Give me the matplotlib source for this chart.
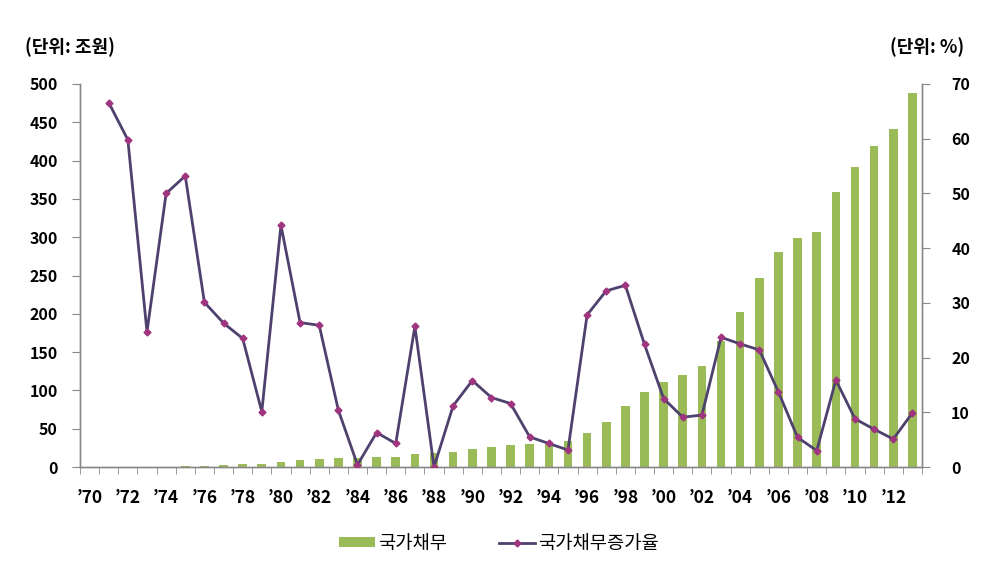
import matplotlib
matplotlib.use("Agg")
import matplotlib.pyplot as plt
import numpy as np

plt.rcParams['font.family'] = ['Noto Sans CJK KR', 'DejaVu Sans']

years = list(range(1970, 2014))
debt = [np.nan, np.nan, np.nan, np.nan, np.nan,
        1.5, 1.8, 3.0, 3.5, 4.5,
        6.0, 8.7, 10.4, 11.7, 12.0,
        13.0, 13.0, 17.3, 18.0, 19.0,
        23.5, 26.5, 29.0, 30.4, 32.0,
        33.4, 43.8, 58.7, 79.0, 97.3,
        110.4, 120.4, 132.1, 165.0, 203.0,
        247.0, 281.0, 298.7, 307.4, 359.0,
        391.3, 419.0, 441.0, 488.7]
growth = [np.nan, 66.6, 59.8, 24.7, 50.0,
          53.2, 30.1, 26.3, 23.5, 10.1,
          44.2, 26.4, 25.9, 10.4, 0.4,
          6.3, 4.3, 25.7, 0.0, 11.2,
          15.8, 12.7, 11.6, 5.5, 4.3,
          3.1, 27.8, 32.2, 33.2, 22.4,
          12.5, 9.1, 9.5, 23.7, 22.5,
          21.4, 13.7, 5.4, 3.0, 15.9,
          8.8, 6.9, 5.1, 9.9]
left_ticks = [0, 50, 100, 150, 200, 250, 300, 350, 400, 450, 500]
right_ticks = [0, 10, 20, 30, 40, 50, 60, 70]
label_years = list(range(1970, 2013, 2))
label_texts = ["\u2019%02d" % (y % 100) for y in label_years]

fig = plt.figure(figsize=(10.04, 5.63), dpi=100)
ax = fig.add_axes([0.0797, 0.1705, 0.8386, 0.6803])
ax2 = ax.twinx()

x = np.arange(len(years))
ax.bar(x, debt, width=0.45, color='#9BBB59', label='국가채무', zorder=2)
ax.set_ylim(0, 500)
ax.set_xlim(-0.5, len(years) - 0.5)
ax.set_yticks(left_ticks)

ax2.plot(x, growth, color='#4E416E', linewidth=2.0, marker='D', markersize=3.5,
         markerfacecolor='#A0357F', markeredgecolor='#A0357F',
         label='국가채무증가율', zorder=3)
ax2.set_ylim(0, 70)
ax2.set_yticks(right_ticks)

label_pos = [years.index(y) for y in label_years]
ax.set_xticks(label_pos)
ax.set_xticklabels(label_texts, fontsize=12.5, fontweight='bold')
ax.set_xticks(np.arange(-0.5, len(years)), minor=True)
ax.tick_params(axis='x', which='major', length=0, pad=16)
ax.tick_params(axis='x', which='minor', length=5, color='#888888', direction='out')

for a in (ax, ax2):
    a.spines['top'].set_visible(False)
    for s in ('left', 'right', 'bottom'):
        a.spines[s].set_color('#888888')
        a.spines[s].set_linewidth(1.0)

ax.tick_params(axis='y', length=6, color='#888888', pad=10, labelsize=11.5)
ax2.tick_params(axis='y', length=6, color='#888888', pad=15, labelsize=11.5)
for lbl in ax.get_yticklabels() + ax2.get_yticklabels():
    lbl.set_fontweight('bold')

fig.text(0.025, 0.917, '(단위: 조원)', fontsize=13, fontweight='bold', ha='left', va='center')
fig.text(0.960, 0.917, '(단위: %)', fontsize=13, fontweight='bold', ha='right', va='center')

h1, l1 = ax.get_legend_handles_labels()
h2, l2 = ax2.get_legend_handles_labels()
fig.legend(h1 + h2, l1 + l2, loc='center', bbox_to_anchor=(0.497, 0.035), ncol=2,
           frameon=False, fontsize=13.5, handlelength=1.9, handleheight=0.5,
           columnspacing=2.8, handletextpad=0.15)

fig.savefig('out.png', dpi=100)
